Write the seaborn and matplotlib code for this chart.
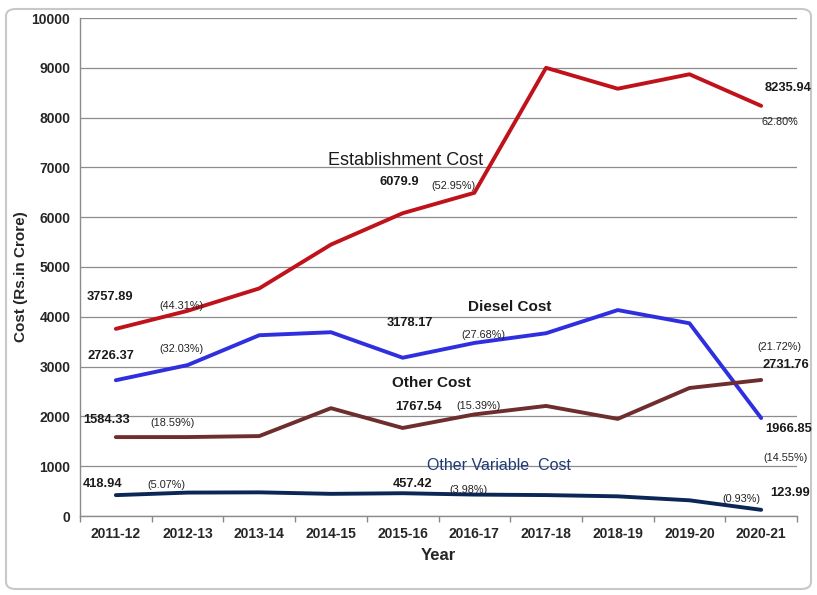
import matplotlib
matplotlib.use("Agg")
import matplotlib.pyplot as plt
import seaborn as sns
import pandas as pd
from matplotlib.patches import FancyBboxPatch
from matplotlib.ticker import FixedLocator, MultipleLocator

years = ["2011-12", "2012-13", "2013-14", "2014-15", "2015-16",
         "2016-17", "2017-18", "2018-19", "2019-20", "2020-21"]
establishment = [3757.89, 4120, 4570, 5450, 6079.9, 6490, 9000, 8580, 8870, 8235.94]
diesel = [2726.37, 3030, 3630, 3690, 3178.17, 3475, 3670, 4135, 3870, 1966.85]
other_cost = [1584.33, 1585, 1605, 2165, 1767.54, 2040, 2210, 1950, 2570, 2731.76]
other_variable = [418.94, 470, 475, 445, 457.42, 430, 420, 395, 315, 123.99]

series_names = ["Establishment Cost", "Diesel Cost", "Other Cost", "Other Variable Cost"]
colors = {"Establishment Cost": "#c0121a", "Diesel Cost": "#2f2fe0",
          "Other Cost": "#6e2e2e", "Other Variable Cost": "#0c2656"}

frames = []
for name, vals in zip(series_names, [establishment, diesel, other_cost, other_variable]):
    frames.append(pd.DataFrame({"Year": years, "Cost": vals, "Series": name,
                                "idx": range(len(years))}))
df = pd.concat(frames, ignore_index=True)

sns.set_theme(style="white")
plt.rcParams["font.family"] = ["Liberation Sans", "DejaVu Sans"]

fig = plt.figure(figsize=(8.17, 5.95), dpi=100)
ax = fig.add_axes([80/817, 1-516/595, 717/817, 498/595])

# outer rounded frame
frame = FancyBboxPatch((6/817, 6/595), 805/817, 580/595,
                       boxstyle="round,pad=0,rounding_size=0.012",
                       transform=fig.transFigure, facecolor="none",
                       edgecolor="#c8c8c8", linewidth=1.5, zorder=-1)
fig.patches.append(frame)

sns.lineplot(data=df, x="idx", y="Cost", hue="Series", palette=colors,
             linewidth=2.8, legend=False, ax=ax, sort=False)

ax.set_xlim(-0.5, 9.5)
ax.set_ylim(0, 10000)
ax.set_xticks(range(len(years)))
ax.set_xticklabels(years, fontsize=10, fontweight="bold")
ax.yaxis.set_major_locator(MultipleLocator(1000))
for lab in ax.get_yticklabels():
    lab.set_fontweight("bold")
    lab.set_fontsize(10)
ax.tick_params(axis="x", which="major", length=0, pad=8)
ax.tick_params(axis="y", which="major", length=0, pad=7)
ax.xaxis.set_minor_locator(FixedLocator([i - 0.5 for i in range(11)]))
ax.tick_params(axis="x", which="minor", length=4, color="#888888", direction="out", bottom=True)
ax.grid(axis="y", color="#8c8c8c", linewidth=0.9)
ax.grid(axis="x", visible=False)
for s in ["top", "right"]:
    ax.spines[s].set_visible(False)
for s in ["left", "bottom"]:
    ax.spines[s].set_color("#8c8c8c")
    ax.spines[s].set_linewidth(1.0)

ax.set_xlabel("Year", fontsize=12, fontweight="bold", labelpad=5)
ax.set_ylabel("Cost (Rs.in Crore)", fontsize=11, fontweight="bold")
ax.yaxis.set_label_coords(-0.072, 0.48)

def px(x, y):
    return ((x - 116) / 71.7, (516 - y) * 10000 / 498)

def label(x, y, s, size=9, weight="bold", color="#1a1a1a", ha="left"):
    xd, yd = px(x, y)
    ax.text(xd, yd, s, fontsize=size, fontweight=weight, color=color,
            ha=ha, va="center", clip_on=False)

# series names
label(328, 161, "Establishment Cost", size=13, weight="normal")
label(468, 307, "Diesel Cost", size=11, weight="bold")
label(392, 383, "Other Cost", size=11, weight="bold")
label(427, 465, "Other Variable  Cost", size=11.5, weight="normal", color="#1f3b73")

# value labels
vals = [(87, 297, "3757.89"), (88, 356, "2726.37"), (83, 420, "1584.33"), (83, 484, "418.94"),
        (380, 182, "6079.9"), (387, 323, "3178.17"), (395, 407, "1767.54"), (393, 484, "457.42"),
        (765, 88, "8235.94"), (763, 365, "2731.76"), (765, 429, "1966.85"), (770, 493, "123.99")]
for x, y, s in vals:
    label(x, y, s, size=9.3)

pcts = [(160, 306, "(44.31%)"), (160, 349, "(32.03%)"), (151, 423, "(18.59%)"), (148, 485, "(5.07%)"),
        (432, 186, "(52.95%)"), (462, 335, "(27.68%)"), (457, 406, "(15.39%)"), (450, 490, "(3.98%)"),
        (762, 122, "62.80%"), (758, 347, "(21.72%)"), (764, 458, "(14.55%)"), (723, 499, "(0.93%)")]
for x, y, s in pcts:
    label(x, y, s, size=7.8, weight="normal", color="#222222")

fig.savefig("out.png", dpi=100)
